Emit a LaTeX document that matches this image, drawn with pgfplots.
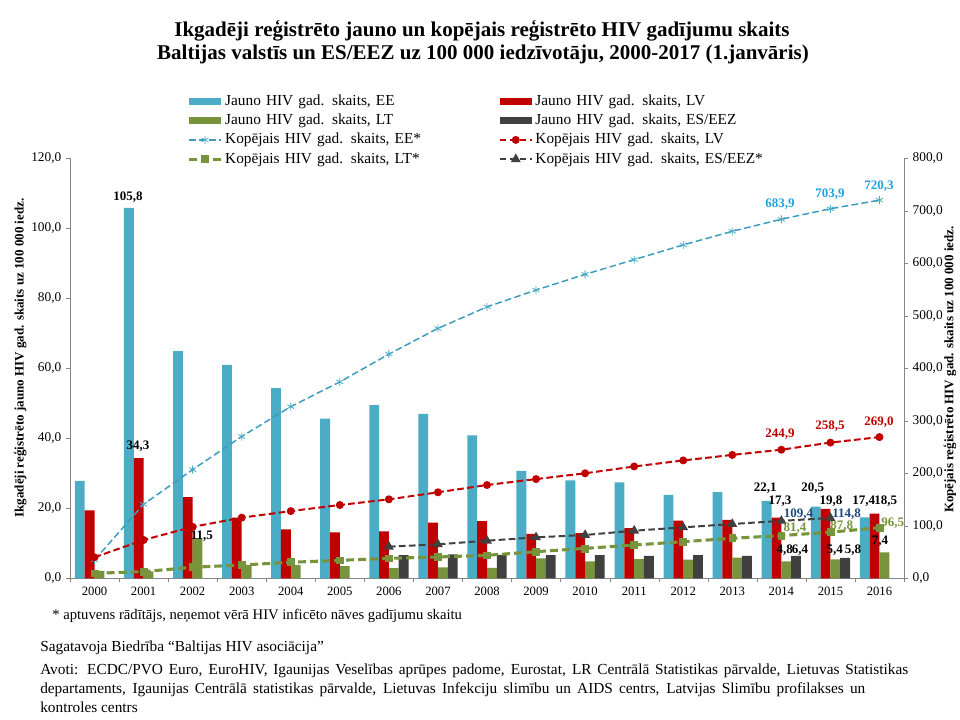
\documentclass[border=0pt]{standalone}
\usepackage{fontspec}
\setmainfont{Liberation Serif}
\usepackage{pgfplots}
\pgfplotsset{compat=1.18}
\definecolor{cEE}{HTML}{4BACC6}
\definecolor{cEEline}{HTML}{3A9BBF}
\definecolor{cEElab}{HTML}{1CA3DE}
\definecolor{cLV}{HTML}{C00000}
\definecolor{cLT}{HTML}{77933C}
\definecolor{cES}{HTML}{404040}
\definecolor{cESlab}{HTML}{1F497D}
\definecolor{axgray}{HTML}{868686}
\newcommand\lab{\fontsize{9.75}{11}\selectfont\bfseries}
\pgfplotsset{barleg/.style={legend image code/.code={\fill[##1] (0pt,-2.6pt) rectangle (24pt,2.6pt);}}}
\begin{document}
\begin{tikzpicture}
\useasboundingbox (0,0) rectangle (720pt,540pt);
\begin{axis}[
 at={(52.5pt,106.275pt)}, anchor=south west,
 scale only axis, width=625.5pt, height=315pt,
 xmin=-0.5, xmax=16.5, ymin=0, ymax=120,
 axis x line*=bottom, axis y line*=left,
 axis line style={draw=axgray},
 every tick/.append style={draw=axgray},
 tick align=outside, major tick length=3pt,
 xtick={-0.5,0.5,...,16.5}, xticklabels={},
 ytick={0,20,...,120},
 y tick label style={font=\fontsize{10}{12}\selectfont, /pgf/number format/fixed, /pgf/number format/fixed zerofill, /pgf/number format/precision=1, /pgf/number format/use comma, /pgf/number format/assume math mode=true},
 ylabel={Ikgadēji reģistrēto jauno HIV gad. skaits uz 100 000 iedz.},
 every axis y label/.style={at={(axis description cs:-0.060,0.5245)}, rotate=90, anchor=center, font=\fontsize{9.75}{11}\selectfont\bfseries},
 clip=false,
]
\addplot[ybar, bar width=0.2, bar shift=-0.3, fill=cEE, draw=none] coordinates {
 (0,27.8) (1,105.8) (2,64.9) (3,61.0) (4,54.3) (5,45.6) (6,49.5) (7,47.0) (8,40.8)
 (9,30.7) (10,28.0) (11,27.4) (12,23.8) (13,24.6) (14,22.1) (15,20.5) (16,17.4)};
\addplot[ybar, bar width=0.2, bar shift=-0.1, fill=cLV, draw=none] coordinates {
 (0,19.4) (1,34.3) (2,23.2) (3,17.3) (4,14.0) (5,13.1) (6,13.4) (7,15.9) (8,16.3)
 (9,12.7) (10,12.9) (11,14.3) (12,16.5) (13,16.7) (14,17.3) (15,19.8) (16,18.5)};
\addplot[ybar, bar width=0.2, bar shift=0.1, fill=cLT, draw=none] coordinates {
 (0,2.1) (1,2.0) (2,11.5) (3,3.8) (4,3.8) (5,3.5) (6,2.9) (7,3.1) (8,3.0)
 (9,5.7) (10,4.8) (11,5.5) (12,5.3) (13,5.9) (14,4.8) (15,5.4) (16,7.4)};
\addplot[ybar, bar width=0.2, bar shift=0.3, fill=cES, draw=none] coordinates {
 (6,6.6) (7,6.8) (8,6.7) (9,6.6) (10,6.6) (11,6.4) (12,6.6) (13,6.4) (14,6.4) (15,5.8)};
\node[font=\lab] at (axis cs:0.682,108.9) {105,8};
\node[font=\lab] at (axis cs:0.886,37.8) {34,3};
\node[font=\lab] at (axis cs:2.19,12.1) {11,5};
\node[font=\lab] at (axis cs:13.67,25.8) {22,1};
\node[font=\lab] at (axis cs:13.97,21.9) {17,3};
\node[font=\lab] at (axis cs:14.07,8.1) {4,8};
\node[font=\lab] at (axis cs:14.38,8.1) {6,4};
\node[font=\lab] at (axis cs:14.64,25.8) {20,5};
\node[font=\lab] at (axis cs:15.01,21.9) {19,8};
\node[font=\lab] at (axis cs:15.09,8.1) {5,4};
\node[font=\lab] at (axis cs:15.46,8.1) {5,8};
\node[font=\lab] at (axis cs:15.68,21.9) {17,4};
\node[font=\lab] at (axis cs:16.13,21.9) {18,5};
\node[font=\lab] at (axis cs:16.01,10.5) {7,4};
\end{axis}
\begin{axis}[
 at={(52.5pt,106.275pt)}, anchor=south west,
 scale only axis, width=625.5pt, height=315pt,
 xmin=-0.5, xmax=16.5, ymin=0, ymax=800,
 axis x line*=bottom, axis y line*=right,
 x axis line style={draw=none},
 y axis line style={draw=axgray},
 tick align=outside, major tick length=3pt,
 xtick={0,...,16},
 xticklabels={2000,2001,2002,2003,2004,2005,2006,2007,2008,2009,2010,2011,2012,2013,2014,2015,2016},
 xtick style={draw=none},
 x tick label style={font=\fontsize{9.5}{11}\selectfont, yshift=0pt},
 ytick={0,100,...,800},
 ytick style={draw=axgray},
 y tick label style={font=\fontsize{10}{12}\selectfont, /pgf/number format/fixed, /pgf/number format/fixed zerofill, /pgf/number format/precision=1, /pgf/number format/use comma, /pgf/number format/assume math mode=true},
 ylabel={Kopējais reģistrēto HIV gad. skaits uz 100 000 iedz.},
 every axis y label/.style={at={(axis description cs:1.055,0.497)}, rotate=90, anchor=center, font=\fontsize{9.75}{11}\selectfont\bfseries},
 clip=false,
 legend columns=2,
 legend cell align=left,
 legend image code/.code={\draw[mark repeat=2,mark phase=2,#1] plot coordinates {(0pt,0pt) (12pt,0pt) (24pt,0pt)};},
 legend style={at={(axis description cs:0.1405,1.154)}, anchor=north west, draw=none, fill=none, inner sep=0pt,
   font=\fontsize{11.5}{13}\selectfont, row sep=3.5pt,
   /tikz/every odd column/.append style={column sep=2pt},
   nodes={inner xsep=0pt, inner ysep=0pt, text height=8.5pt, text depth=2.5pt, text width=205.2pt}},
]
\addlegendimage{barleg, fill=cEE, draw=none}
\addlegendentry{Jauno HIV gad. skaits, EE}
\addlegendimage{barleg, fill=cLV, draw=none}
\addlegendentry{Jauno HIV gad. skaits, LV}
\addlegendimage{barleg, fill=cLT, draw=none}
\addlegendentry{Jauno HIV gad. skaits, LT}
\addlegendimage{barleg, fill=cES, draw=none}
\addlegendentry{Jauno HIV gad. skaits, ES/EEZ}
\addplot[color=cEEline, line width=1.1pt, dash pattern=on 5pt off 2.5pt, mark=asterisk, mark size=3pt, mark options={solid, draw=cEE, line width=0.6pt}] coordinates {
 (0,35) (1,141) (2,207) (3,270) (4,327) (5,374) (6,427) (7,476) (8,517)
 (9,549) (10,579) (11,607) (12,635) (13,661) (14,683.9) (15,703.9) (16,720.3)};
\addlegendentry{Kopējais HIV gad. skaits, EE*}
\addplot[color=cLV, line width=1.5pt, dash pattern=on 5pt off 2.5pt, mark=*, mark size=2.2pt, mark options={solid, fill=cLV, draw=cLV}] coordinates {
 (0,40) (1,73) (2,98) (3,115.5) (4,128) (5,139.6) (6,150.4) (7,163.8) (8,177.7)
 (9,189) (10,200) (11,213) (12,224.5) (13,235) (14,244.9) (15,258.5) (16,269.0)};
\addlegendentry{Kopējais HIV gad. skaits, LV}
\addplot[color=cLT, line width=2.3pt, dash pattern=on 6pt off 3pt, mark=square*, mark size=2.6pt, mark options={solid, fill=cLT, draw=cLT, line width=0.5pt}] coordinates {
 (0,9.5) (1,12.7) (2,21) (3,25.3) (4,30.5) (5,34.2) (6,38) (7,40.6) (8,43.8)
 (9,50.7) (10,57) (11,63.4) (12,69.7) (13,76.2) (14,81.4) (15,87.8) (16,96.5)};
\addlegendentry{Kopējais HIV gad. skaits, LT*}
\addplot[color=cES, line width=1.5pt, dash pattern=on 5pt off 2.5pt, mark=triangle*, mark size=2.8pt, mark options={solid, fill=cES, draw=cES}] coordinates {
 (6,60.2) (7,64.7) (8,71.6) (9,78) (10,82.5) (11,90.7) (12,97) (13,103.4) (14,109.4) (15,114.8)};
\addlegendentry{Kopējais HIV gad. skaits, ES/EEZ*}
\node[font=\lab, text=cEElab] at (axis cs:13.97,712.4) {683,9};
\node[font=\lab, text=cEElab] at (axis cs:14.99,732) {703,9};
\node[font=\lab, text=cEElab] at (axis cs:15.99,747.8) {720,3};
\node[font=\lab, text=cLV] at (axis cs:13.97,274.3) {244,9};
\node[font=\lab, text=cLV] at (axis cs:14.99,288.8) {258,5};
\node[font=\lab, text=cLV] at (axis cs:15.99,298.3) {269,0};
\node[font=\lab, text=cESlab] at (axis cs:14.35,122.5) {109,4};
\node[font=\lab, text=cESlab] at (axis cs:15.33,122.8) {114,8};
\node[font=\lab, text=cLT] at (axis cs:14.28,94.6) {81,4};
\node[font=\lab, text=cLT] at (axis cs:15.23,100.2) {87,8};
\node[font=\lab, text=cLT] at (axis cs:16.27,104.8) {96,5};
\end{axis}
\node[anchor=base, inner sep=0pt, font=\fontsize{15.75}{17}\selectfont\bfseries] at (361.5pt,512.5pt) {Ikgadēji reģistrēto jauno un kopējais reģistrēto HIV gadījumu skaits};
\node[anchor=base, inner sep=0pt, font=\fontsize{15.75}{17}\selectfont\bfseries] at (362.25pt,495.2pt) {Baltijas valstīs un ES/EEZ uz 100 000 iedzīvotāju, 2000-2017 (1.janvāris)};
\node[anchor=base west, inner sep=0pt, font=\fontsize{11}{12}\selectfont] at (39pt,75pt) {* aptuvens rādītājs, neņemot vērā HIV inficēto nāves gadījumu skaitu};
\node[anchor=base west, inner sep=0pt, font=\fontsize{11.5}{13}\selectfont] at (30pt,51pt) {Sagatavoja Biedrība “Baltijas HIV asociācija”};
\node[anchor=base west, inner sep=0pt, font=\fontsize{11.5}{13}\selectfont] at (30pt,33.75pt) {\makebox[651pt][s]{Avoti: ECDC/PVO Euro, EuroHIV, Igaunijas Veselības aprūpes padome, Eurostat, LR Centrālā Statistikas pārvalde, Lietuvas Statistikas}};
\node[anchor=base west, inner sep=0pt, font=\fontsize{11.5}{13}\selectfont] at (30pt,19.5pt) {\makebox[618.75pt][s]{departaments, Igaunijas Centrālā statistikas pārvalde, Lietuvas Infekciju slimību un AIDS centrs, Latvijas Slimību profilakses un}};
\node[anchor=base west, inner sep=0pt, font=\fontsize{11.5}{13}\selectfont] at (30pt,5.25pt) {kontroles centrs};
\end{tikzpicture}
\end{document}
